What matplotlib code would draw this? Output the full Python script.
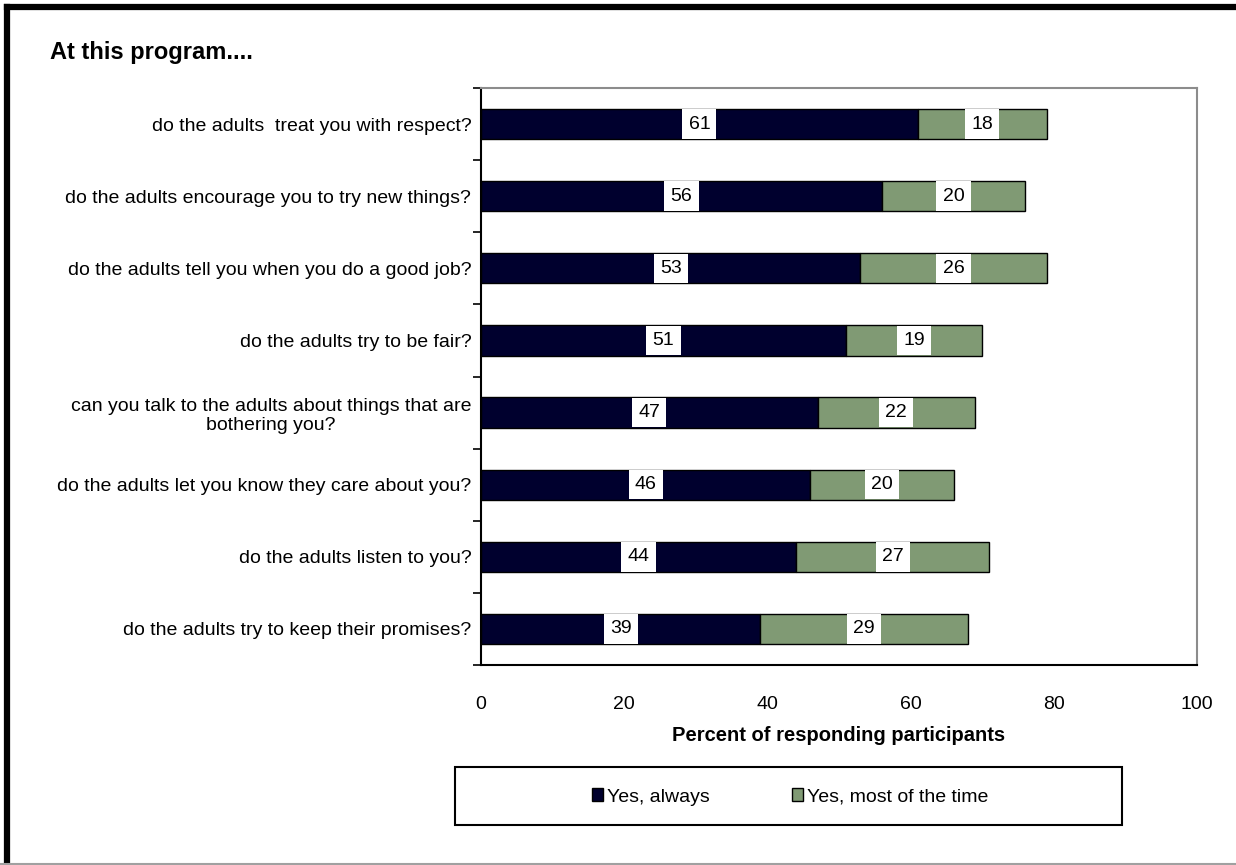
import numpy as np
import matplotlib
matplotlib.use("Agg")
import matplotlib.pyplot as plt
from matplotlib.lines import Line2D
from matplotlib.patches import Rectangle

plt.rcParams['font.family'] = ['Liberation Sans', 'DejaVu Sans']

questions = [
    "do the adults  treat you with respect?",
    "do the adults encourage you to try new things?",
    "do the adults tell you when you do a good job?",
    "do the adults try to be fair?",
    "can you talk to the adults about things that are\nbothering you?",
    "do the adults let you know they care about you?",
    "do the adults listen to you?",
    "do the adults try to keep their promises?",
]
always = [61, 56, 53, 51, 47, 46, 44, 39]
most_time = [18, 20, 26, 19, 22, 20, 27, 29]
series_names = ["Yes, always", "Yes, most of the time"]
xticks = [0, 20, 40, 60, 80, 100]

navy = "#00002E"
green = "#809A74"

W, H = 1236, 865
fig = plt.figure(figsize=(W / 100, H / 100), dpi=100)
ax = fig.add_axes([481 / W, 1 - 665 / H, (1197 - 481) / W, (665 - 88) / H])

y = np.arange(len(questions))
always = np.array(always)
most_time = np.array(most_time)
bh = 0.42
b1 = ax.barh(y, always, height=bh, color=navy, edgecolor="black", linewidth=1,
             label=series_names[0])
b2 = ax.barh(y, most_time, left=always, height=bh, color=green, edgecolor="black",
             linewidth=1, label=series_names[1])

box = dict(boxstyle="square,pad=0.32", fc="white", ec="none")
for i in range(len(questions)):
    ax.text(always[i] / 2, y[i], str(always[i]), ha="center", va="center",
            fontsize=14, bbox=box)
    ax.text(always[i] + most_time[i] / 2, y[i], str(most_time[i]), ha="center",
            va="center", fontsize=14, bbox=box)

ax.set_xlim(0, 100)
ax.set_ylim(len(questions) - 0.5, -0.5)
ax.set_xticks(xticks)
ax.set_xticklabels([str(v) for v in xticks], fontsize=14)
ax.tick_params(axis="x", length=0, pad=22)
ax.set_yticks(y)
ax.set_yticklabels(questions, fontsize=14, multialignment="center")
ax.tick_params(axis="y", which="major", length=0, pad=7)
ax.set_yticks(np.arange(-0.5, len(questions)), minor=True)
ax.tick_params(axis="y", which="minor", length=6, width=1.2, color="black")
ax.set_xlabel("Percent of responding participants", fontsize=14.5, fontweight="bold",
              labelpad=10)

for s in ["left", "bottom"]:
    ax.spines[s].set_color("black")
    ax.spines[s].set_linewidth(1.5)
for s in ["top", "right"]:
    ax.spines[s].set_color("#8c8c8c")
    ax.spines[s].set_linewidth(1.5)

fig.text(50 / W, 1 - 52 / H, "At this program....", fontsize=17,
         fontweight="bold", ha="left", va="center")

# legend box
fig.add_artist(Rectangle((455 / W, 1 - 825 / H), (1122 - 455) / W, 58 / H,
                         transform=fig.transFigure, fill=False, ec="black", lw=1.5))
fig.legend(handles=[b1, b2], labels=series_names, loc="center",
           bbox_to_anchor=(790 / W, 1 - 797 / H), ncol=2, frameon=False,
           fontsize=14, handlelength=0.6, handleheight=0.6, handletextpad=0.2,
           columnspacing=4.2)

# outer frame
fig.add_artist(Line2D([7 / W, 1], [1 - 7 / H, 1 - 7 / H], color="black", lw=4.5,
                      transform=fig.transFigure))
fig.add_artist(Line2D([7 / W, 7 / W], [0, 1 - 7 / H], color="black", lw=4.5,
                      transform=fig.transFigure))
fig.add_artist(Line2D([0, 1], [1.5 / H, 1.5 / H], color="#a0a0a0", lw=1.5,
                      transform=fig.transFigure))

fig.savefig("out.png", dpi=100)
